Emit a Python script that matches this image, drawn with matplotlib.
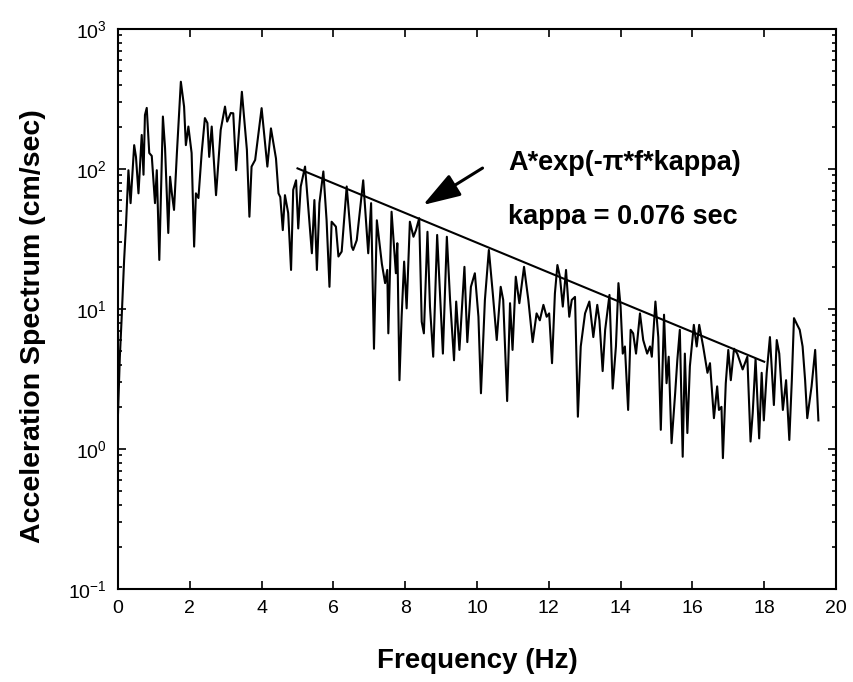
import matplotlib
matplotlib.use("Agg")
import matplotlib.pyplot as plt
import numpy as np

plt.rcParams['font.family'] = ['Liberation Sans', 'DejaVu Sans']
plt.rcParams['mathtext.fontset'] = 'custom'
plt.rcParams['mathtext.rm'] = 'Liberation Sans'
plt.rcParams['mathtext.it'] = 'Liberation Sans:italic'
plt.rcParams['mathtext.bf'] = 'Liberation Sans:bold'

# spectrum (Hz, cm/sec)
freq = [0.00, 0.05, 0.10, 0.17, 0.22, 0.29, 0.35, 0.45, 0.50, 0.57, 0.66, 0.71,
        0.75, 0.80, 0.87, 0.94, 1.03, 1.08, 1.15, 1.25, 1.31, 1.40, 1.45, 1.50,
        1.56, 1.64, 1.75, 1.84, 1.89, 1.96, 2.05, 2.12, 2.17, 2.24, 2.33, 2.42,
        2.49, 2.54, 2.61, 2.73, 2.86, 2.98, 3.04, 3.14, 3.21, 3.29, 3.45, 3.59,
        3.66, 3.72, 3.82, 4.00, 4.16, 4.26, 4.40, 4.47, 4.52, 4.59, 4.65, 4.74,
        4.82, 4.88, 4.96, 5.02, 5.09, 5.21, 5.40, 5.47, 5.54, 5.61, 5.72, 5.81,
        5.89, 5.95, 6.07, 6.14, 6.23, 6.37, 6.51, 6.55, 6.65, 6.83, 6.97, 7.05,
        7.13, 7.21, 7.35, 7.44, 7.50, 7.53, 7.62, 7.74, 7.78, 7.84, 7.90, 7.97,
        8.04, 8.13, 8.23, 8.30, 8.39, 8.46, 8.52, 8.62, 8.69, 8.78, 8.89, 9.05,
        9.16, 9.25, 9.36, 9.42, 9.51, 9.65, 9.73, 9.83, 9.94, 10.04, 10.11, 10.22,
        10.33, 10.44, 10.55, 10.66, 10.73, 10.84, 10.92, 10.99, 11.08, 11.18, 11.31, 11.43,
        11.55, 11.66, 11.75, 11.85, 11.94, 12.01, 12.09, 12.17, 12.24, 12.31, 12.39, 12.48,
        12.57, 12.64, 12.73, 12.81, 12.89, 13.01, 13.13, 13.24, 13.35, 13.41, 13.50, 13.57,
        13.69, 13.78, 13.87, 13.94, 14.00, 14.06, 14.12, 14.21, 14.28, 14.35, 14.43, 14.54,
        14.63, 14.74, 14.82, 14.87, 14.97, 15.05, 15.12, 15.21, 15.28, 15.34, 15.42, 15.52,
        15.58, 15.65, 15.73, 15.79, 15.86, 15.93, 16.04, 16.12, 16.19, 16.30, 16.42, 16.49,
        16.60, 16.69, 16.74, 16.81, 16.85, 16.93, 17.00, 17.07, 17.16, 17.25, 17.40, 17.53,
        17.62, 17.68, 17.76, 17.86, 17.93, 17.99, 18.07, 18.16, 18.27, 18.35, 18.42, 18.52,
        18.61, 18.70, 18.77, 18.83, 18.92, 18.99, 19.07, 19.14, 19.20, 19.32, 19.42, 19.51]
amp = [1.8, 4.5, 8.5, 22.4, 38.7, 98, 57, 148, 122, 67, 175, 91,
       243, 273, 130, 124, 57, 98, 22.4, 237, 141, 34.9, 88, 67,
       51, 130, 420, 279, 148, 201, 130, 27.9, 67, 62, 130, 231,
       213, 122, 201, 65, 190, 279, 218, 251, 250, 98, 356, 137,
       45.6, 104, 116, 272, 104, 195, 119, 67, 63, 36.6, 65, 48.5,
       19, 71, 83, 37.6, 75, 104, 25, 60, 19, 57, 96, 43,
       14.4, 42, 38.7, 23.7, 25.7, 75, 27.9, 26.4, 31, 83, 25, 57,
       5.2, 43, 21, 15.3, 19, 6.7, 49.5, 18, 29.5, 3.1, 8.8, 21.8,
       10.1, 42, 32.8, 36.6, 44.5, 8.1, 6.7, 35.6, 10.4, 4.56, 33.8, 4.8,
       32.8, 11.6, 4.3, 11.3, 5.1, 20, 5.8, 14.4, 18, 8.8, 2.5, 11.6,
       26.4, 12.9, 6.0, 14.4, 11.6, 2.2, 11, 5.1, 17, 11, 20, 11.6,
       5.8, 9.3, 8.3, 10.7, 8.8, 9.3, 4.1, 12.9, 20.6, 17, 10.4, 19,
       8.8, 11.6, 12.2, 1.7, 5.4, 9.3, 11.3, 6.3, 10.7, 8.3, 3.6, 7.1,
       12.6, 2.7, 5.4, 15.3, 10.4, 4.8, 5.4, 1.9, 7.1, 6.7, 4.8, 9.3,
       6.0, 4.8, 5.4, 4.56, 11.3, 6.3, 1.37, 9.1, 2.95, 4.56, 1.1, 2.5,
       4.3, 7.1, 0.88, 4.8, 1.3, 3.9, 7.7, 5.4, 7.7, 5.4, 3.5, 4.1,
       1.66, 2.8, 1.9, 2.0, 0.86, 2.95, 5.1, 3.1, 5.2, 4.8, 3.7, 4.56,
       1.13, 1.8, 4.4, 1.19, 3.5, 1.6, 3.5, 6.3, 2.06, 6.0, 4.8, 1.9,
       3.1, 1.16, 3.1, 8.6, 7.7, 7.1, 5.4, 3.1, 1.66, 2.8, 5.1, 1.6]

# fitted decay line end points
fit_freq = [5.0, 18.0]
fit_amp = [101, 4.2]

fig = plt.figure(figsize=(8.54, 6.82), dpi=100)
ax = fig.add_axes([0.1382, 0.1364, 0.8407, 0.8211])

ax.semilogy(freq, amp, color='black', lw=1.5)
ax.plot(fit_freq, fit_amp, color='black', lw=1.5)

ax.set_xlim(0, 20)
ax.set_ylim(0.1, 1000)
ax.set_xticks(np.arange(0, 21, 2))

ax.tick_params(which='both', direction='in', top=True, right=True, labelsize=14, width=1.2)
ax.tick_params(which='major', length=6, pad=8)
ax.tick_params(which='minor', length=3)
for s in ax.spines.values():
    s.set_linewidth(1.5)

ax.set_xlabel('Frequency (Hz)', fontsize=20, fontweight='bold', labelpad=22)
ax.set_ylabel('Acceleration Spectrum (cm/sec)', fontsize=20.5, fontweight='bold', labelpad=12)
ax.yaxis.set_label_coords(-0.1, 0.47)

ax.annotate('', xy=(8.43, 54), xytext=(10.22, 104),
            arrowprops=dict(arrowstyle='-|>,head_length=2.3,head_width=0.75',
                            color='black', lw=2.2))
ax.text(10.86, 110, 'A*exp(-π*f*kappa)', fontsize=19.5, fontweight='bold', va='center')
ax.text(10.86, 45.6, 'kappa = 0.076 sec', fontsize=19.5, fontweight='bold', va='center')

fig.savefig('out.png', dpi=100)
